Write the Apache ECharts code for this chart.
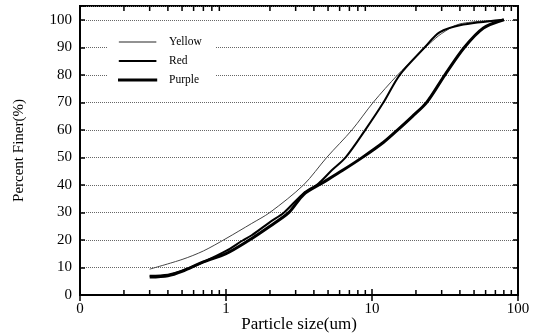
<!DOCTYPE html>
<html>
<head>
<meta charset="utf-8">
<script src="https://cdn.jsdelivr.net/npm/echarts@6/dist/echarts.min.js"></script>
<style>
  html, body { margin: 0; padding: 0; background: #fff; }
  #graph { width: 536px; height: 333px; }
</style>
</head>
<body>
<div id="graph"></div>
<script>
var seriesNames = ['Yellow', 'Red', 'Purple'];

var yellowSize = [0.3, 0.5, 0.7, 1, 1.5, 2, 3.4, 4.9, 7.3, 10.2, 15, 20, 25, 30, 40, 80];
var yellowFiner = [9.4, 12.9, 16, 20.5, 26, 30, 40, 50, 60, 70, 80, 86.5, 91.5, 95, 98.5, 100];

var redSize = [0.3, 0.4, 0.5, 0.7, 1, 1.3, 1.5, 2, 2.5, 3.4, 4.3, 5.3, 6.6, 9, 12, 15.5, 23, 29, 40, 80];
var redFiner = [7, 7.4, 8.8, 12, 16, 19.8, 21.7, 26.5, 30, 37, 40.5, 45.3, 50, 60, 70, 80, 90, 95.4, 98, 100];

var purpleSize = [0.3, 0.4, 0.5, 0.7, 1, 1.4, 2, 2.7, 3.4, 4.5, 6.3, 8.6, 12, 15, 19, 23.7, 31.6, 43, 58, 80];
var purpleFiner = [6.5, 7, 8.6, 12, 15, 19.5, 25, 30, 36.5, 40.5, 45.3, 50, 55.5, 60, 65, 70, 80, 90, 97, 100];

var yTicks = [0, 10, 20, 30, 40, 50, 60, 70, 80, 90, 100];
var minorSizes = [0.2, 0.3, 0.4, 0.5, 0.6, 0.7, 0.8, 0.9, 2, 3, 4, 5, 6, 7, 8, 9, 20, 30, 40, 50, 60, 70, 80, 90];

function pairs(xs, ys) {
    return xs.map(function(x, i) { return [x, ys[i]]; });
}

var serif = 'Liberation Serif';

var option = {
    animation: false,
    backgroundColor: '#fff',
    grid: {
        left: 80, right: 18, top: 6, bottom: 38,
        outerBoundsMode: 'none', containLabel: false,
        show: true, borderColor: '#000', borderWidth: 2
    },
    legend: {
        orient: 'vertical',
        left: 107,
        top: 27,
        padding: [8, 14, 9, 11],
        backgroundColor: '#fff',
        icon: 'rect',
        itemWidth: 37,
        itemHeight: 1,
        itemGap: 5,
        textStyle: {fontFamily: serif, fontSize: 11.5, color: '#000', padding: [0, 0, 0, 8], lineHeight: 14},
        data: [
            {name: 'Yellow', itemStyle: {color: '#777', borderColor: '#777', borderWidth: 0.6}},
            {name: 'Red', itemStyle: {color: '#000', borderColor: '#000', borderWidth: 1}},
            {name: 'Purple', itemStyle: {color: '#000', borderColor: '#000', borderWidth: 2.2}}
        ]
    },
    xAxis: [{
        type: 'log',
        logBase: 10,
        min: 0.1,
        max: 100,
        name: 'Particle size(um)',
        nameLocation: 'middle',
        nameGap: 21,
        nameMoveOverlap: false,
        nameTextStyle: {fontFamily: serif, fontSize: 17, color: '#000', verticalAlign: 'top'},
        axisLine: {lineStyle: {color: '#000', width: 2}},
        axisTick: {inside: true, length: 6, lineStyle: {color: '#000', width: 1.5}},
        axisLabel: {
            fontFamily: serif, fontSize: 15, color: '#000', margin: 7,
            formatter: function(v) { return v < 0.5 ? '0' : String(Math.round(v)); }
        },
        splitLine: {show: false}
    }, {
        type: 'log',
        logBase: 10,
        min: 0.1,
        max: 100,
        position: 'top',
        axisLine: {lineStyle: {color: '#000', width: 2}},
        axisTick: {inside: true, length: 6, lineStyle: {color: '#000', width: 1.5}},
        axisLabel: {show: false},
        splitLine: {show: false}
    }],
    yAxis: [{
        type: 'value',
        min: 0,
        max: 105,
        interval: 10,
        name: 'Percent Finer(%)',
        nameLocation: 'middle',
        nameGap: 53,
        nameTextStyle: {fontFamily: serif, fontSize: 15, color: '#000'},
        axisLine: {show: true, lineStyle: {color: '#000', width: 2}},
        axisTick: {show: true, inside: true, length: 5, lineStyle: {color: '#000', width: 1.5}},
        axisLabel: {
            fontFamily: serif, fontSize: 15, color: '#000', margin: 8,
            formatter: function(v) { return yTicks.indexOf(v) >= 0 ? String(v) : ''; }
        },
        splitLine: {lineStyle: {color: '#666', type: 'dotted', width: 1}}
    }, {
        type: 'value',
        min: 0,
        max: 105,
        interval: 10,
        position: 'right',
        axisLine: {show: true, lineStyle: {color: '#000', width: 2}},
        axisTick: {show: true, inside: true, length: 5, lineStyle: {color: '#000', width: 1.5}},
        axisLabel: {show: false},
        splitLine: {show: false}
    }],
    series: [{
        name: 'Yellow',
        type: 'line',
        symbol: 'none',
        smooth: 0.3,
        lineStyle: {color: '#444', width: 1},
        itemStyle: {color: '#444'},
        data: pairs(yellowSize, yellowFiner)
    }, {
        name: 'Red',
        type: 'line',
        symbol: 'none',
        smooth: 0.3,
        lineStyle: {color: '#000', width: 2},
        itemStyle: {color: '#000'},
        data: pairs(redSize, redFiner)
    }, {
        name: 'Purple',
        type: 'line',
        symbol: 'none',
        smooth: 0.3,
        lineStyle: {color: '#000', width: 3},
        itemStyle: {color: '#000'},
        data: pairs(purpleSize, purpleFiner)
    }]
};

var chart = echarts.init(document.getElementById('graph'));
chart.setOption(option);

// minor log ticks on bottom and top edges
var yBottom = chart.convertToPixel({yAxisIndex: 0}, 0);
var yTop = chart.convertToPixel({yAxisIndex: 0}, 105);
var ticks = [];
minorSizes.forEach(function(s) {
    var px = chart.convertToPixel({xAxisIndex: 0}, s);
    ticks.push({type: 'line', shape: {x1: px, y1: yBottom, x2: px, y2: yBottom - 5}, style: {stroke: '#000', lineWidth: 1.5}});
    ticks.push({type: 'line', shape: {x1: px, y1: yTop, x2: px, y2: yTop + 5}, style: {stroke: '#000', lineWidth: 1.5}});
});
chart.setOption({graphic: ticks});
</script>
</body>
</html>
